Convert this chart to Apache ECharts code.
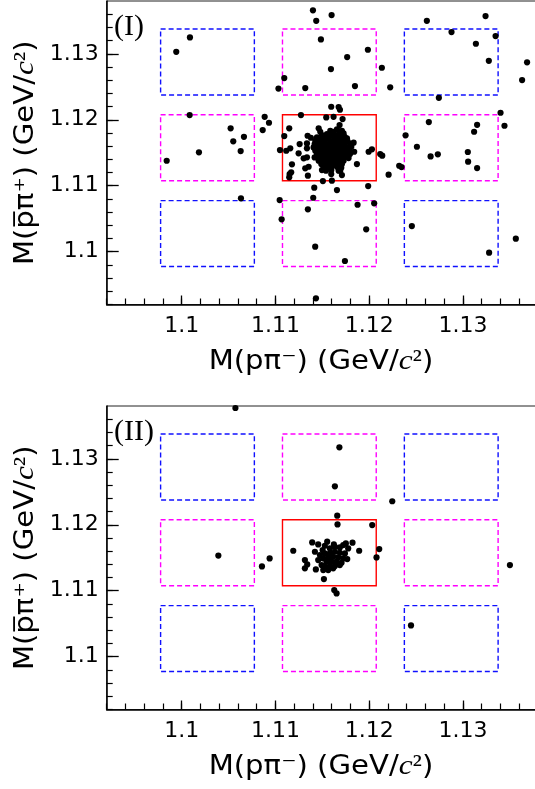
<!DOCTYPE html>
<html>
<head>
<meta charset="utf-8">
<script src="https://cdn.jsdelivr.net/npm/echarts@6/dist/echarts.min.js"></script>
<style>
html, body { margin: 0; padding: 0; background: #fff; }
#chart { width: 535px; height: 789px; }
</style>
</head>
<body>
<div id="chart"></div>
<script>
// Axis ranges and tick positions (GeV/c^2)
const xRange = [1.092, 1.14];
const yRange = [1.092, 1.138];
const majorTicks = [1.10, 1.11, 1.12, 1.13];
const xMinorTicks = [1.092, 1.094, 1.096, 1.098, 1.100, 1.102, 1.104, 1.106, 1.108, 1.110, 1.112, 1.114,
  1.116, 1.118, 1.120, 1.122, 1.124, 1.126, 1.128, 1.130, 1.132, 1.134, 1.136, 1.138];
const yMinorTicks = [1.092, 1.094, 1.096, 1.098, 1.100, 1.102, 1.104, 1.106, 1.108, 1.110, 1.112, 1.114,
  1.116, 1.118, 1.120, 1.122, 1.124, 1.126, 1.128, 1.130, 1.132, 1.134, 1.136];

// Signal window (centre) and sideband windows, same for both mass axes
const windowCentres = [1.10275, 1.11575, 1.12875];
const windowHalfWidth = 0.005;

// Sample (I): candidates away from the dense core
const sampleIScatter = [
  [1.10088,1.13248],[1.09942,1.13030],[1.11032,1.12473],[1.11400,1.13658],[1.11599,1.13586],[1.11435,1.13500],
  [1.11485,1.13218],[1.11986,1.13061],[1.11765,1.12950],[1.11592,1.12768],[1.12135,1.12788],[1.11094,1.12632],
  [1.11318,1.12480],[1.11848,1.12511],[1.12224,1.12491],[1.12615,1.13500],[1.13241,1.13571],[1.12878,1.13329],
  [1.13348,1.13268],[1.13138,1.13152],[1.13276,1.12894],[1.13684,1.12870],[1.13631,1.12602],[1.12743,1.12333],
  [1.11595,1.12197],[1.11674,1.12192],[1.11688,1.12152],[1.11272,1.12071],[1.11542,1.12036],[1.11620,1.12045],
  [1.11716,1.12011],[1.11684,1.11920],[1.11147,1.11870],[1.11461,1.11870],[1.11478,1.11818],[1.11620,1.11818],
  [1.11343,1.11758],[1.11094,1.11753],[1.11378,1.11727],[1.11738,1.11742],[1.11834,1.11652],[1.11258,1.11632],
  [1.11158,1.11567],[1.11336,1.11642],[1.11336,1.11567],[1.11048,1.11541],[1.11115,1.11530],[1.11247,1.11491],
  [1.11840,1.11515],[1.11773,1.11480],[1.11994,1.11515],[1.12029,1.11552],[1.12117,1.11480],[1.12139,1.11455],
  [1.11301,1.11415],[1.11336,1.11430],[1.11176,1.11324],[1.11318,1.11264],[1.11354,1.11288],[1.11496,1.11238],
  [1.11691,1.11227],[1.11869,1.11329],[1.11151,1.11177],[1.11168,1.11203],[1.11147,1.11127],[1.11346,1.11152],
  [1.11595,1.11177],[1.11709,1.11162],[1.11506,1.11071],[1.11602,1.11076],[1.11414,1.10970],[1.11656,1.10935],
  [1.11989,1.10995],[1.10632,1.10809],[1.11045,1.10783],[1.11066,1.10491],[1.11403,1.10818],[1.11346,1.10642],
  [1.11876,1.10712],[1.12053,1.10733],[1.11968,1.10339],[1.11424,1.10076],[1.11741,1.09859],[1.11432,1.09294],
  [1.13401,1.12106],[1.13443,1.11909],[1.12636,1.11965],[1.13151,1.11924],[1.13119,1.11818],[1.12388,1.11764],
  [1.12509,1.11591],[1.12655,1.11445],[1.12732,1.11476],[1.13052,1.11511],[1.13055,1.11364],[1.13151,1.11268],
  [1.12320,1.11303],[1.12345,1.11283],[1.12207,1.11167],[1.12455,1.10389],[1.13279,1.09985],[1.13564,1.10197],
  [1.10085,1.12071],[1.10885,1.12045],[1.10931,1.11955],[1.10864,1.11844],[1.10522,1.11870],[1.10664,1.11742],
  [1.10550,1.11673],[1.10629,1.11526],[1.10184,1.11506],[1.09840,1.11379]
];

// Sample (I): dense core around the Lambda mass
const sampleICore = [
  [1.11585,1.11833],[1.11656,1.11854],[1.11709,1.11833],
  [1.11496,1.11768],[1.11549,1.11783],[1.11603,1.11793],[1.11674,1.11778],[1.11727,1.11793],
  [1.11443,1.11732],[1.11514,1.11742],[1.11567,1.11732],[1.11620,1.11753],[1.11656,1.11732],[1.11709,1.11742],[1.11763,1.11717],
  [1.11425,1.11682],[1.11478,1.11692],[1.11532,1.11702],[1.11585,1.11682],[1.11631,1.11697],[1.11674,1.11687],[1.11727,1.11677],[1.11773,1.11667],
  [1.11418,1.11631],[1.11468,1.11641],[1.11514,1.11652],[1.11560,1.11631],[1.11603,1.11641],[1.11645,1.11652],[1.11692,1.11631],[1.11738,1.11641],[1.11798,1.11631],
  [1.11407,1.11581],[1.11453,1.11591],[1.11496,1.11601],[1.11539,1.11581],[1.11585,1.11591],[1.11631,1.11601],[1.11674,1.11581],[1.11716,1.11591],[1.11763,1.11581],[1.11809,1.11591],
  [1.11425,1.11530],[1.11478,1.11540],[1.11525,1.11550],[1.11567,1.11530],[1.11610,1.11540],[1.11656,1.11550],[1.11702,1.11530],[1.11745,1.11540],[1.11787,1.11530],
  [1.11443,1.11480],[1.11489,1.11490],[1.11532,1.11500],[1.11574,1.11480],[1.11620,1.11490],[1.11663,1.11500],[1.11709,1.11480],[1.11752,1.11490],[1.11795,1.11480],
  [1.11418,1.11429],[1.11468,1.11439],[1.11514,1.11450],[1.11560,1.11429],[1.11603,1.11439],[1.11645,1.11450],[1.11692,1.11429],[1.11738,1.11439],[1.11780,1.11419],
  [1.11461,1.11379],[1.11503,1.11389],[1.11549,1.11399],[1.11596,1.11379],[1.11638,1.11389],[1.11684,1.11399],[1.11727,1.11379],
  [1.11489,1.11328],[1.11532,1.11338],[1.11574,1.11349],[1.11620,1.11328],[1.11663,1.11338],[1.11709,1.11328],
  [1.11514,1.11288],[1.11560,1.11278],[1.11603,1.11298],[1.11656,1.11288],[1.11702,1.11273],
  [1.11539,1.11227],[1.11596,1.11237],[1.11674,1.11227]
];

// Sample (II)
const sampleIIPoints = [
  [1.10573,1.13770],[1.11682,1.13173],[1.11634,1.12583],[1.12246,1.12356],[1.10391,1.11533],[1.10856,1.11368],
  [1.10938,1.11490],[1.13501,1.11389],[1.12446,1.10474],
  [1.11659,1.12137],[1.11662,1.12005],[1.12032,1.11995],[1.12078,1.11505],[1.12107,1.11631],
  [1.11627,1.11010],[1.11652,1.10960],[1.11190,1.11606],[1.11517,1.11177],
  [1.11392,1.11733],[1.11456,1.11702],[1.11552,1.11743],[1.11623,1.11702],[1.11723,1.11692],[1.11751,1.11717],
  [1.11822,1.11728],[1.11527,1.11682],[1.11421,1.11591],[1.11503,1.11616],[1.11581,1.11642],[1.11634,1.11667],
  [1.11687,1.11657],[1.11776,1.11642],[1.11893,1.11606],[1.11474,1.11541],[1.11527,1.11566],[1.11581,1.11566],
  [1.11634,1.11591],[1.11687,1.11576],[1.11741,1.11566],[1.11510,1.11490],[1.11563,1.11505],[1.11616,1.11515],
  [1.11670,1.11505],[1.11723,1.11490],[1.11766,1.11480],[1.11456,1.11465],[1.11545,1.11440],[1.11599,1.11440],
  [1.11652,1.11440],[1.11705,1.11424],[1.11314,1.11465],[1.11339,1.11399],[1.11314,1.11339],[1.11492,1.11389],
  [1.11527,1.11364],[1.11581,1.11374],[1.11634,1.11374],[1.11687,1.11389],[1.11431,1.11323],[1.11510,1.11313],
  [1.11563,1.11313],[1.11616,1.11339]
];

// 3x3 grid of mass windows: kind 0 = signal, 1 = single sideband, 2 = double sideband
function buildWindows() {
  const out = [];
  windowCentres.forEach((cx, i) => {
    windowCentres.forEach((cy, j) => {
      const kind = (i === 1 && j === 1) ? 0 : ((i === 1 || j === 1) ? 1 : 2);
      out.push([cx - windowHalfWidth, cx + windowHalfWidth, cy - windowHalfWidth, cy + windowHalfWidth, kind]);
    });
  });
  return out;
}
const windows = buildWindows();

const tickFont = 'DejaVu Sans';
const panels = [
  { top: 1, label: '(I)', data: sampleIScatter.concat(sampleICore) },
  { top: 406, label: '(II)', data: sampleIIPoints }
];
const gridLeft = 106.7, gridWidth = 450, gridHeight = 303.5;

const grids = [], xAxes = [], yAxes = [], series = [], graphics = [];
panels.forEach((p, k) => {
  grids.push({ left: gridLeft, top: p.top, width: gridWidth, height: gridHeight,
    show: true, borderColor: '#222', borderWidth: 1, backgroundColor: 'transparent', outerBoundsMode: 'none' });
  // major axes with labels
  xAxes.push({ type: 'value', gridIndex: k, min: xRange[0], max: xRange[1], position: 'bottom',
    axisLine: { show: true, onZero: false, lineStyle: { color: '#000', width: 1.5 } },
    axisTick: { show: true, inside: true, length: 9, customValues: majorTicks, lineStyle: { color: '#000', width: 1.3 } },
    axisLabel: { show: true, customValues: majorTicks, margin: 11, color: '#000', fontSize: 22, fontFamily: tickFont,
      formatter: v => String(+v.toFixed(3)) },
    splitLine: { show: false } });
  xAxes.push({ type: 'value', gridIndex: k, min: xRange[0], max: xRange[1], position: 'bottom',
    axisLine: { show: false }, axisLabel: { show: false }, splitLine: { show: false },
    axisTick: { show: true, inside: true, length: 6, customValues: xMinorTicks, lineStyle: { color: '#000', width: 1.2 } } });
  yAxes.push({ type: 'value', gridIndex: k, min: yRange[0], max: yRange[1], position: 'left',
    axisLine: { show: true, onZero: false, lineStyle: { color: '#000', width: 1.5 } },
    axisTick: { show: true, inside: true, length: 12, customValues: majorTicks, lineStyle: { color: '#000', width: 1.3 } },
    axisLabel: { show: true, customValues: majorTicks, margin: 8, color: '#000', fontSize: 22, fontFamily: tickFont,
      formatter: v => String(+v.toFixed(3)) },
    splitLine: { show: false } });
  yAxes.push({ type: 'value', gridIndex: k, min: yRange[0], max: yRange[1], position: 'left',
    axisLine: { show: false }, axisLabel: { show: false }, splitLine: { show: false },
    axisTick: { show: true, inside: true, length: 6, customValues: yMinorTicks, lineStyle: { color: '#000', width: 1.2 } } });

  series.push({
    type: 'custom', xAxisIndex: 2 * k, yAxisIndex: 2 * k, data: windows, z: 2, silent: true,
    encode: { x: [0, 1], y: [2, 3] },
    renderItem: (params, api) => {
      const a = api.coord([api.value(0), api.value(3)]);
      const b = api.coord([api.value(1), api.value(2)]);
      const kind = api.value(4);
      const stroke = kind === 0 ? '#ff0000' : (kind === 1 ? '#ff00ff' : '#1010ff');
      return { type: 'rect', shape: { x: a[0], y: a[1], width: b[0] - a[0], height: b[1] - a[1] },
        style: { fill: null, stroke: stroke, lineWidth: 1.4, lineDash: kind === 0 ? null : [5, 3] } };
    }
  });
  series.push({
    type: 'scatter', xAxisIndex: 2 * k, yAxisIndex: 2 * k, data: p.data, z: 3,
    symbol: 'circle', symbolSize: 6.2, itemStyle: { color: '#000', opacity: 1 }, silent: true
  });

  const cy = p.top + gridHeight / 2;
  graphics.push({ type: 'text', x: 114, y: p.top + 26, silent: true,
    style: { text: p.label, font: '30px "Liberation Serif"', fill: '#000', textVerticalAlign: 'middle' } });
  graphics.push({ type: 'text', x: 26, y: cy, rotation: Math.PI / 2, scaleX: 1.12, silent: true,
    style: { text: '{t|M(p\u0305π⁺) (GeV/}{c|c}{s|²}{t|)}', textAlign: 'center', textVerticalAlign: 'middle',
      rich: { t: { fontFamily: tickFont, fontSize: 26, fill: '#000' },
              c: { fontFamily: 'Liberation Serif', fontStyle: 'italic', fontSize: 28, fill: '#000' },
              s: { fontFamily: 'Liberation Serif', fontSize: 28, fill: '#000' } } } });
  graphics.push({ type: 'text', x: 321, y: p.top + 361, scaleX: 1.12, silent: true,
    style: { text: '{t|M(pπ⁻) (GeV/}{c|c}{s|²}{t|)}', textAlign: 'center', textVerticalAlign: 'middle',
      rich: { t: { fontFamily: tickFont, fontSize: 26, fill: '#000' },
              c: { fontFamily: 'Liberation Serif', fontStyle: 'italic', fontSize: 28, fill: '#000' },
              s: { fontFamily: 'Liberation Serif', fontSize: 28, fill: '#000' } } } });
});

const chart = echarts.init(document.getElementById('chart'), null, { renderer: 'canvas' });
chart.setOption({
  animation: false,
  backgroundColor: '#fff',
  grid: grids,
  xAxis: xAxes,
  yAxis: yAxes,
  series: series,
  graphic: graphics
});
</script>
</body>
</html>
